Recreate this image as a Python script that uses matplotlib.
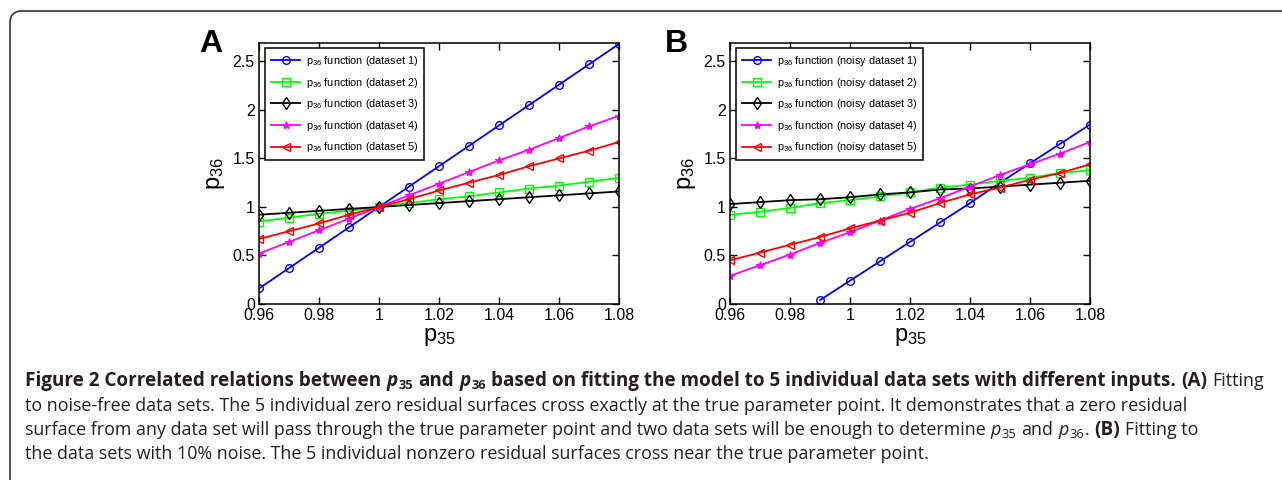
import matplotlib
matplotlib.use('Agg')
import matplotlib.pyplot as plt
from matplotlib.patches import FancyBboxPatch
from matplotlib.transforms import IdentityTransform
from matplotlib.font_manager import FontProperties

# data
p35 = [0.96, 0.97, 0.98, 0.99, 1.00, 1.01, 1.02, 1.03, 1.04, 1.05, 1.06, 1.07, 1.08]
p35_b1 = [0.99, 1.00, 1.01, 1.02, 1.03, 1.04, 1.05, 1.06, 1.07, 1.08]

a_set1 = [0.16, 0.37, 0.58, 0.79, 1.00, 1.21, 1.42, 1.63, 1.84, 2.05, 2.26, 2.47, 2.68]
a_set2 = [0.85, 0.89, 0.93, 0.96, 1.00, 1.04, 1.08, 1.11, 1.15, 1.19, 1.22, 1.26, 1.30]
a_set3 = [0.92, 0.94, 0.96, 0.98, 1.00, 1.02, 1.04, 1.06, 1.08, 1.10, 1.12, 1.14, 1.16]
a_set4 = [0.52, 0.64, 0.76, 0.88, 1.00, 1.12, 1.24, 1.36, 1.48, 1.59, 1.71, 1.83, 1.94]
a_set5 = [0.67, 0.75, 0.83, 0.92, 1.00, 1.08, 1.17, 1.25, 1.33, 1.42, 1.50, 1.58, 1.67]

b_set1 = [0.04, 0.24, 0.44, 0.64, 0.84, 1.04, 1.25, 1.45, 1.65, 1.85]
b_set2 = [0.92, 0.95, 0.99, 1.04, 1.07, 1.11, 1.15, 1.20, 1.23, 1.27, 1.30, 1.35, 1.38]
b_set3 = [1.03, 1.05, 1.07, 1.08, 1.10, 1.13, 1.15, 1.18, 1.19, 1.21, 1.23, 1.25, 1.27]
b_set4 = [0.29, 0.40, 0.51, 0.63, 0.74, 0.86, 0.98, 1.09, 1.21, 1.33, 1.44, 1.55, 1.67]
b_set5 = [0.45, 0.53, 0.61, 0.69, 0.78, 0.86, 0.94, 1.04, 1.13, 1.20, 1.28, 1.35, 1.44]

xticks = [0.96, 0.98, 1.00, 1.02, 1.04, 1.06, 1.08]
xticklabels = ['0.96', '0.98', '1', '1.02', '1.04', '1.06', '1.08']
yticks = [0, 0.5, 1, 1.5, 2, 2.5]
yticklabels = ['0', '0.5', '1', '1.5', '2', '2.5']

labels_a = ['dataset 1', 'dataset 2', 'dataset 3', 'dataset 4', 'dataset 5']
labels_b = ['noisy dataset 1', 'noisy dataset 2', 'noisy dataset 3', 'noisy dataset 4', 'noisy dataset 5']

W, H = 1282, 480
PF = 'Liberation Sans'
plt.rcParams['font.family'] = PF
plt.rcParams['mathtext.default'] = 'regular'

fig = plt.figure(figsize=(W / 100, H / 100), dpi=100)

# rounded frame around the whole figure
frame = FancyBboxPatch((10, -40), 1400, H - 11 + 40, boxstyle='round,pad=0,rounding_size=12',
                       transform=IdentityTransform(), fc='none', ec='#333333', lw=1.2)
fig.patches.append(frame)

styles = [dict(color=(0, 0, 1), marker='o', ms=5.5, mfc='none', mew=1.0),
          dict(color=(0, 1, 0), marker='s', ms=5.5, mfc='none', mew=1.0),
          dict(color='k', marker='d', ms=6, mfc='none', mew=1.0),
          dict(color=(1, 0, 1), marker='*', ms=6, mew=0.8),
          dict(color=(1, 0, 0), marker='<', ms=6, mfc='none', mew=1.0)]


def panel(left, xs_list, ys_list, names, letter, letter_x):
    ax = fig.add_axes([left / W, 1 - 304 / H, 360 / W, 261 / H])
    for xs, ys, name, st in zip(xs_list, ys_list, names, styles):
        ax.plot(xs, ys, lw=1.3, label=r'$p_{36}$ function (' + name + ')', **st)
    ax.set_xlim(0.96, 1.08)
    ax.set_ylim(0, 2.69)
    ax.set_xticks(xticks)
    ax.set_xticklabels(xticklabels)
    ax.set_yticks(yticks)
    ax.set_yticklabels(yticklabels)
    ax.tick_params(direction='in', top=True, right=True, length=5, width=1,
                   labelsize=11.5, pad=3)
    for s in ax.spines.values():
        s.set_linewidth(1.1)
    ax.set_xlabel(r'$p_{35}$', fontsize=17, labelpad=2)
    ax.set_ylabel(r'$p_{36}$', fontsize=17, labelpad=4)
    leg = ax.legend(loc='upper left', bbox_to_anchor=(6 / 360, 1 - 5 / 261), borderaxespad=0,
                    fontsize=7.8, fancybox=False, edgecolor='k', framealpha=1,
                    handlelength=2.7, handletextpad=0.5, labelspacing=0.7, borderpad=0.55)
    leg.get_frame().set_linewidth(1.1)
    fig.text(letter_x / W, 1 - 52 / H, letter, fontsize=23, fontweight='bold',
             ha='left', va='baseline')
    return ax


panel(259, [p35] * 5, [a_set1, a_set2, a_set3, a_set4, a_set5], labels_a, 'A', 199)
panel(730, [p35_b1] + [p35] * 4, [b_set1, b_set2, b_set3, b_set4, b_set5], labels_b, 'B', 665)

# caption
CF = 'Open Sans'
CS = 12.9
TC = '#231f20'
R = dict(family=CF, size=CS, color=TC)
B = dict(R, weight='bold', size=13.6)
I = dict(R, style='italic')
BI = dict(B, style='italic')
SUB = dict(R, size=CS * 0.72, dy=3)
BSUB = dict(B, size=CS * 0.72, dy=3)

rend = fig.canvas.get_renderer()


def space_w(kw):
    fp = FontProperties(family=kw['family'], size=kw['size'],
                        weight=kw.get('weight', 'normal'), style=kw.get('style', 'normal'))
    w1 = rend.get_text_width_height_descent('a a', fp, ismath=False)[0]
    w2 = rend.get_text_width_height_descent('aa', fp, ismath=False)[0]
    return w1 - w2


def write_line(y, parts):
    x = 25.0
    for s, kw in parts:
        kw = dict(kw)
        dy = kw.pop('dy', 0)
        if s == ' ':
            x += space_w(kw)
            continue
        t = fig.text(x / W, 1 - (y + dy) / H, s, ha='left', va='baseline', **kw)
        x = t.get_window_extent(rend).x1 + 0.5


write_line(386, [('Figure 2 Correlated relations between', B), (' ', B), ('p', BI), ('35', BSUB),
                 (' ', B), ('and', B), (' ', B), ('p', BI), ('36', BSUB), (' ', B),
                 ('based on fitting the model to 5 individual data sets with different inputs.', B),
                 (' ', B), ('(A)', B), (' ', R), ('Fitting', R)])
write_line(411, [('to noise-free data sets. The 5 individual zero residual surfaces cross exactly '
                  'at the true parameter point. It demonstrates that a zero residual', R)])
write_line(435, [('surface from any data set will pass through the true parameter point and two '
                  'data sets will be enough to determine', R), (' ', R), ('p', I), ('35', SUB),
                 (' ', R), ('and', R), (' ', R), ('p', I), ('36', SUB), ('.', R), (' ', R),
                 ('(B)', B), (' ', R), ('Fitting to', R)])
write_line(459, [('the data sets with 10% noise. The 5 individual nonzero residual surfaces cross '
                  'near the true parameter point.', R)])

fig.savefig('out.png', dpi=100)
